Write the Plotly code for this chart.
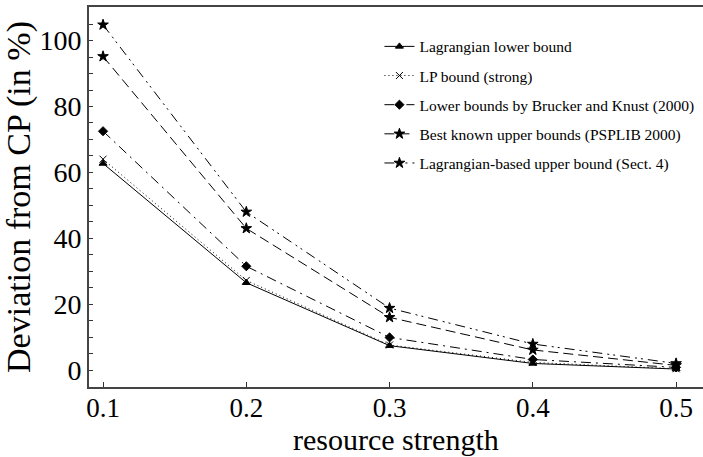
import plotly.graph_objects as go

resource_strength = [0.1, 0.2, 0.3, 0.4, 0.5]
x_tick_labels = ["0.1", "0.2", "0.3", "0.4", "0.5"]
y_tick_values = [0, 20, 40, 60, 80, 100]

lagrangian_lower = [62.7, 26.5, 7.4, 2.0, 0.3]
lp_bound = [64.0, 27.2, 7.6, 2.3, 0.4]
brucker_knust = [72.5, 31.5, 9.9, 3.2, 0.8]
best_known_upper = [95.2, 43.0, 16.0, 6.1, 1.4]
lagrangian_upper = [104.8, 48.0, 18.8, 7.9, 2.0]

series_names = [
    "Lagrangian lower bound",
    "LP bound (strong)",
    "Lower bounds by Brucker and Knust (2000)",
    "Best known upper bounds (PSPLIB 2000)",
    "Lagrangian-based upper bound (Sect. 4)",
]
series_values = [lagrangian_lower, lp_bound, brucker_knust, best_known_upper, lagrangian_upper]
dashes = ["solid", "1px,3px", "10px,5px,2px,5px", "10px,5px", "10px,5px,2px,4px,2px,5px"]
symbols = ["triangle-up", "x-thin", "diamond", "star", "star"]
sizes = [7, 7, 7, 8, 8]

FONT = "Liberation Serif, Times New Roman, serif"

fig = go.Figure()
for i, (name, vals) in enumerate(zip(series_names, series_values)):
    fig.add_trace(go.Scatter(
        x=resource_strength, y=vals, name=name, mode="lines+markers",
        legendgroup=f"g{i}",
        line=dict(color="black", width=1, dash=dashes[i]),
        marker=dict(symbol=symbols[i], size=sizes[i], color="black",
                    line=dict(color="black", width=1)),
    ))

fig.update_layout(
    width=703, height=457,
    margin=dict(l=89, r=0, t=7, b=70),
    paper_bgcolor="white", plot_bgcolor="white",
    font=dict(family=FONT, color="black"),
    showlegend=True,
    legend=dict(x=0.473, y=0.94, xanchor="left", yanchor="top",
                bgcolor="rgba(0,0,0,0)", font=dict(family=FONT, size=15.5),
                tracegroupgap=6, itemwidth=30),
    xaxis=dict(
        range=[0.0902, 0.5188], tickvals=resource_strength, ticktext=x_tick_labels,
        ticks="inside", ticklen=5, tickcolor="#333", showgrid=False, zeroline=False,
        showline=True, linewidth=2, linecolor="#444", mirror=True, automargin=False,
        tickfont=dict(size=27), ticklabelstandoff=-4,
    ),
    yaxis=dict(
        range=[-5.15, 110.2], tickvals=y_tick_values,
        ticks="inside", ticklen=4, tickcolor="#333", showgrid=False, zeroline=False,
        showline=True, linewidth=2, linecolor="#444", automargin=False,
        minor=dict(dtick=5, ticks="inside", ticklen=4, tickcolor="#333", showgrid=False),
        tickfont=dict(size=28), title=dict(text="Deviation from CP (in %)", font=dict(size=34), standoff=0),
    ),
    annotations=[dict(
        text="resource strength", x=0.5, y=0, xref="paper", yref="paper",
        xanchor="center", yanchor="bottom", yshift=-70, showarrow=False,
        font=dict(family=FONT, size=30, color="black"), borderpad=0,
    )],
)

fig.write_html("out.html", config={"displayModeBar": False},
               post_script="document.body.style.margin='0';")
